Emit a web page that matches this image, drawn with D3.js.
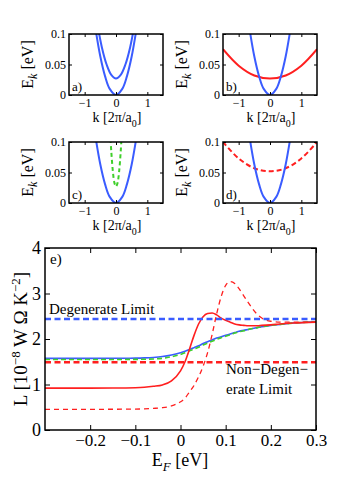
<!DOCTYPE html>
<html>
<head>
<meta charset="utf-8">
<script src="https://cdn.jsdelivr.net/npm/d3@7"></script>
<style>
  body { margin: 0; background: #fff; }
  svg { display: block; }
  text { font-family: "Liberation Serif", "DejaVu Serif", serif; fill: #000; }
</style>
</head>
<body>
<svg width="349" height="484"></svg>
<script>
// tick values
const kTicks = [-1, 0, 1];
const ekTicks = [0, 0.05, 0.1];
const efTicks = [-0.2, -0.1, 0, 0.1, 0.2, 0.3];
const lTicks = [0, 1, 2, 3, 4];

const kBlue = [-0.7, -0.5, -0.35, -0.2, 0, 0.2, 0.35, 0.5, 0.7];
const eBlue = [0.123, 0.063, 0.031, 0.010, 0, 0.010, 0.031, 0.063, 0.123];
const kBlueUp = [-0.6, -0.45, -0.3, -0.15, 0, 0.15, 0.3, 0.45, 0.6];
const eBlueUp = [0.118, 0.078, 0.050, 0.033, 0.027, 0.033, 0.050, 0.078, 0.118];
const kRed = [-1.5, -1, -0.5, 0, 0.5, 1, 1.5];
const eRed = [0.075, 0.048, 0.032, 0.027, 0.032, 0.048, 0.075];
const kGreen = [-0.2, -0.15, -0.1, -0.05, 0, 0.05, 0.1, 0.15, 0.2];
const eGreen = [0.128, 0.084, 0.052, 0.033, 0.027, 0.033, 0.052, 0.084, 0.128];
const kRedUp = [-1.5, -1, -0.5, 0, 0.5, 1, 1.5];
const eRedUp = [0.100, 0.073, 0.057, 0.052, 0.057, 0.073, 0.100];

// Lorenz number vs Fermi level (panel e)
const efGrid = [-0.3, -0.2, -0.15, -0.1, -0.08, -0.06, -0.04, -0.02, 0, 0.01, 0.02, 0.03, 0.04, 0.05, 0.06,
  0.07, 0.08, 0.09, 0.1, 0.11, 0.12, 0.13, 0.14, 0.15, 0.16, 0.17, 0.18, 0.2, 0.22, 0.25, 0.3];
const lBlue = [1.575, 1.575, 1.576, 1.58, 1.585, 1.595, 1.615, 1.65, 1.70, 1.73, 1.77, 1.81, 1.85, 1.90, 1.94,
  1.98, 2.02, 2.05, 2.08, 2.11, 2.14, 2.17, 2.19, 2.21, 2.23, 2.25, 2.27, 2.30, 2.32, 2.35, 2.38];
const lGreen = [1.55, 1.55, 1.55, 1.552, 1.555, 1.56, 1.575, 1.61, 1.66, 1.70, 1.74, 1.78, 1.82, 1.87, 1.91,
  1.95, 1.99, 2.03, 2.06, 2.09, 2.13, 2.16, 2.18, 2.21, 2.23, 2.25, 2.27, 2.30, 2.32, 2.35, 2.38];
const lRed = [0.92, 0.92, 0.922, 0.93, 0.94, 0.96, 0.99, 1.08, 1.30, 1.50, 1.78, 2.08, 2.33, 2.49, 2.56,
  2.57, 2.53, 2.46, 2.41, 2.37, 2.33, 2.31, 2.30, 2.29, 2.29, 2.29, 2.30, 2.31, 2.33, 2.35, 2.37];
const lRedDash = [0.455, 0.455, 0.456, 0.46, 0.465, 0.475, 0.49, 0.53, 0.62, 0.70, 0.84, 0.98, 1.17, 1.40, 1.70,
  2.10, 2.55, 2.93, 3.18, 3.26, 3.22, 3.10, 2.95, 2.80, 2.66, 2.54, 2.46, 2.39, 2.37, 2.37, 2.37];
const degenerateLimit = 2.44;
const nonDegenerateLimit = 1.49;

const BLUE = "#3a5cff", RED = "#ff1f1f", GREEN = "#3fcf2a";
const FONT = "Liberation Serif";
const svg = d3.select("svg");
const minus = (s) => s.replace("-", "\u2212");

// 작은 패널 4개
const panels = [
  { label: "a)", x0: 69, y0: 34, curves: [
    { k: kBlue, e: eBlue, color: BLUE }, { k: kBlueUp, e: eBlueUp, color: BLUE }] },
  { label: "b)", x0: 223, y0: 34, curves: [
    { k: kRed, e: eRed, color: RED }, { k: kBlue, e: eBlue, color: BLUE }] },
  { label: "c)", x0: 69, y0: 142, curves: [
    { k: kBlue, e: eBlue, color: BLUE }, { k: kGreen, e: eGreen, color: GREEN, dash: "4,3" }] },
  { label: "d)", x0: 223, y0: 142, curves: [
    { k: kRedUp, e: eRedUp, color: RED, dash: "5,3" }, { k: kBlue, e: eBlue, color: BLUE }] }
];
const pw = 94, ph = 61;

panels.forEach((p, i) => {
  const g = svg.append("g").attr("transform", `translate(${p.x0},${p.y0})`);
  const x = d3.scaleLinear().domain([-1.5, 1.5]).range([0, pw]);
  const y = d3.scaleLinear().domain([0, 0.1]).range([ph, 0]);

  g.append("clipPath").attr("id", "clip" + i)
    .append("rect").attr("width", pw).attr("height", ph);

  const line = d3.line().x((d) => x(d[0])).y((d) => y(d[1])).curve(d3.curveCatmullRom);
  g.append("g").attr("clip-path", `url(#clip${i})`)
    .selectAll("path").data(p.curves).enter().append("path")
    .attr("d", (c) => line(c.k.map((k, j) => [k, c.e[j]])))
    .attr("fill", "none").attr("stroke", (c) => c.color)
    .attr("stroke-width", 2).attr("stroke-dasharray", (c) => c.dash || null);

  const ax = (a) => a.call((s) => s.select(".domain").remove())
    .call((s) => s.selectAll("line").attr("stroke", "#000"));
  g.append("g").attr("transform", `translate(0,${ph})`)
    .call(d3.axisBottom(x).tickValues(kTicks).tickSize(-3).tickPadding(3).tickFormat((d) => minus(String(d))))
    .call(ax).selectAll("text").style("font-size", "12px").style("font-family", FONT);
  g.append("g")
    .call(d3.axisLeft(y).tickValues(ekTicks).tickSize(-3).tickPadding(3).tickFormat((d) => String(d)))
    .call(ax).selectAll("text").style("font-size", "12px").style("font-family", FONT);
  g.append("g").call(d3.axisTop(x).tickValues(kTicks).tickSize(-3).tickFormat("")).call(ax);
  g.append("g").attr("transform", `translate(${pw},0)`)
    .call(d3.axisRight(y).tickValues(ekTicks).tickSize(-3).tickFormat("")).call(ax);

  g.append("rect").attr("width", pw).attr("height", ph)
    .attr("fill", "none").attr("stroke", "#000").attr("stroke-width", 1.5);

  g.append("text").attr("x", 3).attr("y", ph - 4).style("font-size", "13px").text(p.label);

  // E_k [eV]
  const yl = g.append("text").attr("transform", `translate(-36,${ph / 2}) rotate(-90)`)
    .attr("text-anchor", "middle").style("font-size", "16px");
  yl.append("tspan").text("E");
  yl.append("tspan").attr("dy", 4).style("font-size", "12px").style("font-style", "italic").text("k");
  yl.append("tspan").attr("dy", -4).text(" [eV]");

  // k [2pi/a0]
  const xl = g.append("text").attr("x", pw / 2 + 1).attr("y", ph + 27)
    .attr("text-anchor", "middle").style("font-size", "14px");
  xl.append("tspan").text("k [2\u03c0/a");
  xl.append("tspan").attr("dy", 5).style("font-size", "10px").text("0");
  xl.append("tspan").attr("dy", -5).text("]");
});

// 큰 패널 e)
const mx0 = 45, mx1 = 316, my0 = 248, my1 = 430;
const xE = d3.scaleLinear().domain([-0.3, 0.3]).range([mx0, mx1]);
const yL = d3.scaleLinear().domain([0, 4]).range([my1, my0]);

svg.append("clipPath").attr("id", "clipE").append("rect")
  .attr("x", mx0).attr("y", my0).attr("width", mx1 - mx0).attr("height", my1 - my0);
const ge = svg.append("g").attr("clip-path", "url(#clipE)");

const lineE = d3.line().x((d, i) => xE(efGrid[i])).y((d) => yL(d)).curve(d3.curveMonotoneX);
const series = [
  { v: lBlue, color: BLUE, w: 1.6 },
  { v: lGreen, color: GREEN, w: 1.6, dash: "5,3" },
  { v: lRed, color: RED, w: 1.6 },
  { v: lRedDash, color: RED, w: 1.3, dash: "5,4" }
];
ge.selectAll("path.s").data(series).enter().append("path").attr("class", "s")
  .attr("d", (s) => lineE(s.v))
  .attr("fill", "none").attr("stroke", (s) => s.color).attr("stroke-width", (s) => s.w)
  .attr("stroke-dasharray", (s) => s.dash || null);

ge.selectAll("line.lim").data([
  { v: degenerateLimit, color: BLUE }, { v: nonDegenerateLimit, color: RED }])
  .enter().append("line").attr("class", "lim")
  .attr("x1", mx0).attr("x2", mx1).attr("y1", (d) => yL(d.v)).attr("y2", (d) => yL(d.v))
  .attr("stroke", (d) => d.color).attr("stroke-width", 2.6).attr("stroke-dasharray", "6,3.5");

const axE = (a) => a.call((s) => s.select(".domain").remove())
  .call((s) => s.selectAll("line").attr("stroke", "#000"));
svg.append("g").attr("transform", `translate(0,${my1})`)
  .call(d3.axisBottom(xE).tickValues(efTicks).tickSize(-5).tickPadding(4).tickFormat((d) => minus(String(d))))
  .call(axE).selectAll("text").style("font-size", "17px").style("font-family", FONT);
svg.append("g").attr("transform", `translate(${mx0},0)`)
  .call(d3.axisLeft(yL).tickValues(lTicks).tickSize(-5).tickPadding(4).tickFormat(d3.format("d")))
  .call(axE).selectAll("text").style("font-size", "18px").style("font-family", FONT);
svg.append("g").attr("transform", `translate(0,${my0})`)
  .call(d3.axisTop(xE).tickValues(efTicks).tickSize(-5).tickFormat("")).call(axE);
svg.append("g").attr("transform", `translate(${mx1},0)`)
  .call(d3.axisRight(yL).tickValues(lTicks).tickSize(-5).tickFormat("")).call(axE);

svg.append("rect").attr("x", mx0).attr("y", my0).attr("width", mx1 - mx0).attr("height", my1 - my0)
  .attr("fill", "none").attr("stroke", "#000").attr("stroke-width", 1.5);

svg.append("text").attr("x", 50).attr("y", 264).style("font-size", "15px").text("e)");
svg.append("text").attr("x", 49).attr("y", 314).style("font-size", "15px").text("Degenerate Limit");
svg.append("text").attr("x", 226).attr("y", 374).style("font-size", "15px").text("Non\u2212Degen\u2212");
svg.append("text").attr("x", 226).attr("y", 394).style("font-size", "15px").text("erate Limit");

// y label
const ly = svg.append("text").attr("transform", `translate(27,${(my0 + my1) / 2}) rotate(-90)`)
  .attr("text-anchor", "middle").style("font-size", "19px");
ly.append("tspan").text("L [10");
ly.append("tspan").attr("dy", -7).style("font-size", "13px").text("\u22128");
ly.append("tspan").attr("dy", 7).text(" W \u03a9 K");
ly.append("tspan").attr("dy", -7).style("font-size", "13px").text("\u22122");
ly.append("tspan").attr("dy", 7).text("]");

// x label
const lx = svg.append("text").attr("x", 180).attr("y", 466).attr("text-anchor", "middle").style("font-size", "18px");
lx.append("tspan").text("E");
lx.append("tspan").attr("dy", 5).style("font-size", "13px").style("font-style", "italic").text("F");
lx.append("tspan").attr("dy", -5).text(" [eV]");
</script>
</body>
</html>
